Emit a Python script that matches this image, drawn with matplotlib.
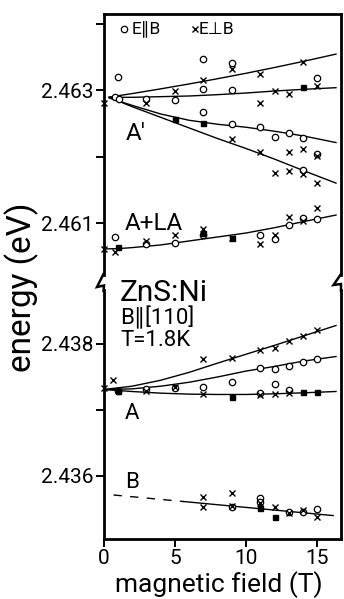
import matplotlib
matplotlib.use("Agg")
import matplotlib.pyplot as plt
from matplotlib.lines import Line2D

plt.rcParams['font.family'] = ['Roboto', 'DejaVu Sans']

W, H = 344, 599

# ---- upper panel: A' lines (energies in eV) ----
par_up_B = [1.0, 0.8, 1.1, 3, 5, 7, 7, 7, 9, 9, 9, 11, 12, 13, 14, 14, 15, 15]
par_up_E = [2.463195, 2.462895, 2.462865, 2.462865, 2.462850, 2.463466, 2.463015,
            2.462669, 2.463406, 2.463000, 2.462489, 2.462444, 2.462293, 2.462353,
            2.462278, 2.461797, 2.463180, 2.462038]
perp_up_B = [0, 3, 5, 7, 9, 11, 11, 12, 13, 14, 15, 9, 11, 12, 13, 13, 14, 14, 15, 15]
perp_up_E = [2.462805, 2.462805, 2.462985, 2.463150, 2.463316, 2.463241, 2.462805,
             2.462985, 2.462940, 2.463421, 2.463060, 2.462263, 2.462068, 2.461752,
             2.462068, 2.461782, 2.462113, 2.461737, 2.462008, 2.461602]
sq_up_B = [5, 7, 14]
sq_up_E = [2.462564, 2.462504, 2.463045]

fit_B = [0.4, 2, 4, 6, 8, 10, 12, 14, 16.3]
fit_A1 = [2.462893, 2.462946, 2.463017, 2.463091, 2.463170, 2.463252, 2.463339, 2.463430, 2.463540]
fit_A2 = [2.462890, 2.462890, 2.462900, 2.462910, 2.462930, 2.462955, 2.462985, 2.463010, 2.463035]
fit_A3 = [2.462880, 2.462770, 2.462640, 2.462545, 2.462485, 2.462440, 2.462380, 2.462310, 2.462210]
fit_A4 = [2.462890, 2.462750, 2.462590, 2.462430, 2.462270, 2.462120, 2.461960, 2.461790, 2.461600]

# ---- A+LA ----
la_par_B = [0.8, 3, 5, 7, 11, 12, 13, 14, 15]
la_par_E = [2.460794, 2.460680, 2.460704, 2.460820, 2.460820, 2.460755, 2.460970, 2.461080, 2.461056]
la_perp_B = [0, 0.8, 3, 5, 7, 9, 11, 12, 13, 14, 15]
la_perp_E = [2.460610, 2.460560, 2.460730, 2.460820, 2.460905, 2.460770, 2.460684,
             2.460820, 2.461095, 2.461035, 2.461230]
la_sq_B = [1.0, 7, 9]
la_sq_E = [2.460644, 2.460845, 2.460770]
fit_la_B = [0, 1, 2, 4, 6, 8, 10, 12, 14, 16.3]
fit_la = [2.460610, 2.460615, 2.460630, 2.460670, 2.460730, 2.460790, 2.460850, 2.460930, 2.461020, 2.461120]

# ---- lower panel: A ----
a_perp_B = [0, 0.7, 3, 5, 7, 7, 9, 11, 11, 12, 12, 13, 13, 14, 15]
a_perp_E = [2.437328, 2.437455, 2.437280, 2.437343, 2.437768, 2.437243, 2.437783, 2.437910,
            2.437227, 2.437934, 2.437243, 2.438045, 2.437253, 2.438120, 2.438210]
a_par_B = [1.0, 3, 5, 7, 9, 11, 11, 12, 12, 13, 13, 14, 15]
a_par_E = [2.437290, 2.437313, 2.437340, 2.437354, 2.437420, 2.437630, 2.437263, 2.437616,
           2.437394, 2.437667, 2.437303, 2.437722, 2.437768]
a_sq_B = [1.0, 9, 14, 15]
a_sq_E = [2.437288, 2.437202, 2.437278, 2.437278]
fit_a_B = [0, 2, 4, 6, 8, 10, 12, 14, 16.3]
fit_a1 = [2.437310, 2.437360, 2.437450, 2.437570, 2.437710, 2.437845, 2.437980, 2.438120, 2.438280]
fit_a2 = [2.437310, 2.437320, 2.437360, 2.437420, 2.437500, 2.437590, 2.437660, 2.437740, 2.437810]
fit_a3 = [2.437310, 2.437280, 2.437255, 2.437240, 2.437235, 2.437235, 2.437245, 2.437260, 2.437280]

# ---- B ----
b_perp_B = [7, 7, 9, 9, 11, 12, 13, 14, 15]
b_perp_E = [2.435677, 2.435525, 2.435747, 2.435545, 2.435586, 2.435535, 2.435434, 2.435485, 2.435374]
b_par_B = [9, 11, 11, 13, 14, 15]
b_par_E = [2.435530, 2.435662, 2.435600, 2.435450, 2.435460, 2.435495]
b_sq_B = [11, 12]
b_sq_E = [2.435510, 2.435383]
fit_b_dash_B = [0.7, 5.6]
fit_b_dash = [2.435712, 2.435613]
fit_b_B = [5.6, 16.1]
fit_b = [2.435613, 2.435400]

fig = plt.figure(figsize=(W / 100, H / 100), dpi=100)
x0, x1 = 103.5, 341
ax_up = fig.add_axes([x0 / W, 1 - 283 / H, (x1 - x0) / W, (283 - 14) / H])
ax_lo = fig.add_axes([x0 / W, 1 - 539 / H, (x1 - x0) / W, (539 - 283) / H])

circ = dict(ls='none', marker='o', mfc='white', mec='black', ms=4.6, mew=0.9, clip_on=False)
cross = dict(ls='none', marker='x', color='black', ms=4.4, mew=1.0, clip_on=False)
square = dict(ls='none', marker='s', color='black', ms=3.6, clip_on=False)
line = dict(color='black', lw=1.0)

for yfit in (fit_A1, fit_A2, fit_A3, fit_A4):
    ax_up.plot(fit_B, yfit, **line)
ax_up.plot(fit_la_B, fit_la, **line)
ax_up.plot(par_up_B + la_par_B, par_up_E + la_par_E, **circ)
ax_up.plot(perp_up_B + la_perp_B, perp_up_E + la_perp_E, **cross)
ax_up.plot(sq_up_B + la_sq_B, sq_up_E + la_sq_E, **square)

for yfit in (fit_a1, fit_a2, fit_a3):
    ax_lo.plot(fit_a_B, yfit, **line)
ax_lo.plot(fit_b_dash_B, fit_b_dash, color='black', lw=1.0, dashes=(6, 6))
ax_lo.plot(fit_b_B, fit_b, **line)
ax_lo.plot(a_par_B + b_par_B, a_par_E + b_par_E, **circ)
ax_lo.plot(a_perp_B + b_perp_B, a_perp_E + b_perp_E, **cross)
ax_lo.plot(a_sq_B + b_sq_B, a_sq_E + b_sq_E, **square)

# legend drawn inside the upper panel
ax_up.plot([1.42], [2.463917], **circ)
ax_up.text(1.95, 2.463917, 'E\u2225B', fontsize=12.5, va='center', ha='left')
ax_up.plot([6.4], [2.463917], **cross)
ax_up.text(6.7, 2.463917, 'E\u22a5B', fontsize=12.5, va='center', ha='left')

ax_up.text(1.55, 2.462346, "A'", fontsize=17.5, va='center', ha='left')
ax_up.text(1.5, 2.461000, 'A+LA', fontsize=17.5, va='center', ha='left')
ax_lo.text(1.15, 2.438780, 'ZnS:Ni', fontsize=21.5, va='center', ha='left')
ax_lo.text(1.2, 2.438394, 'B\u2225[110]', fontsize=16, va='center', ha='left')
ax_lo.text(1.2, 2.438053, 'T=1.8K', fontsize=16, va='center', ha='left')
ax_lo.text(1.5, 2.436947, 'A', fontsize=16, va='center', ha='left')
ax_lo.text(1.5, 2.435902, 'B', fontsize=16, va='center', ha='left')

ax_up.set_xlim(0, 16.65)
ax_lo.set_xlim(0, 16.65)
ax_up.set_ylim(2.460098, 2.464143)
ax_lo.set_ylim(2.435045, 2.438924)

ax_up.set_yticks([2.461, 2.462, 2.463, 2.464])
ax_up.set_yticklabels(['2.461', '', '2.463', ''])
ax_lo.set_yticks([2.436, 2.437, 2.438])
ax_lo.set_yticklabels(['2.436', '', '2.438'])
ax_lo.set_xticks([0, 5, 10, 15])
ax_lo.set_xticklabels(['0', '5', '10', '15'])

for ax in (ax_up, ax_lo):
    ax.tick_params(axis='y', direction='out', length=6, width=1.4, pad=1, labelsize=15)
    ax.tick_params(axis='x', direction='out', length=6, width=1.4, pad=1.5, labelsize=15)
    for s in ax.spines.values():
        s.set_linewidth(2.0)
ax_up.tick_params(axis='x', bottom=False, labelbottom=False)
ax_up.spines['bottom'].set_visible(False)
ax_lo.spines['top'].set_visible(False)
ax_up.spines['left'].set_bounds(2.460218, 2.464143)
ax_up.spines['right'].set_bounds(2.460218, 2.464143)
ax_lo.spines['left'].set_bounds(2.435045, 2.438818)
ax_lo.spines['right'].set_bounds(2.435045, 2.438818)


def zig(xs, ys):
    fig.add_artist(Line2D([x / W for x in xs], [1 - y / H for y in ys],
                          color='black', lw=1.8, transform=fig.transFigure,
                          solid_joinstyle='miter'))


zig([x0, 97, 104, x0], [274, 287, 285.5, 291])
zig([x1, 333.5, 341, x1], [274, 285, 284, 291])

fig.text(22 / W, 1 - 287 / H, 'energy (eV)', rotation=90, fontsize=24, ha='center', va='center')
fig.text(219 / W, 1 - 592.5 / H, 'magnetic field (T)', fontsize=19, ha='center', va='baseline')

fig.savefig('out.png', dpi=100)
